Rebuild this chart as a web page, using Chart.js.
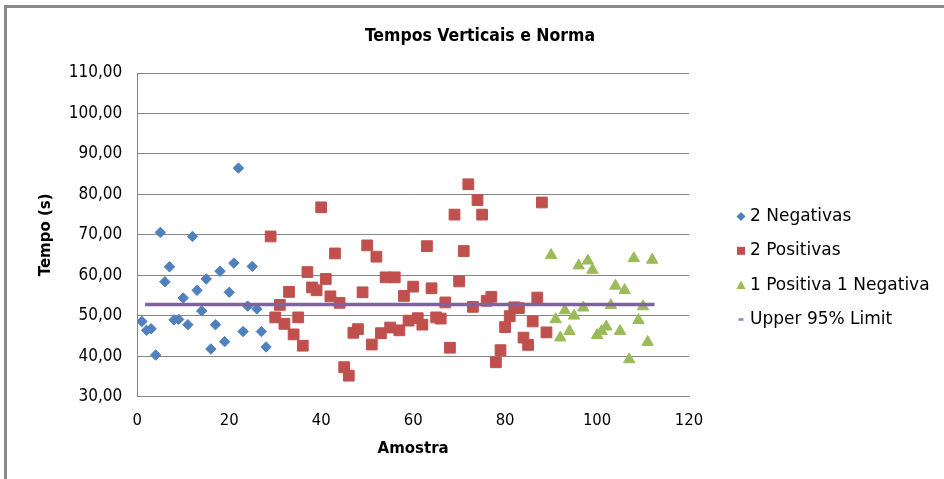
<!DOCTYPE html>
<html>
<head>
<meta charset="utf-8">
<script src="https://cdn.jsdelivr.net/npm/chart.js@4.4.1/dist/chart.umd.min.js"></script>
<style>
  html, body { margin: 0; padding: 0; background: #fff; overflow: hidden; width: 944px; height: 479px; }
  #frame { position: absolute; left: 4px; top: 5px; width: 1200px; height: 800px; border: 3px solid #8a8a8a; box-sizing: border-box; }
  #wrap { position: absolute; left: 0; top: 0; width: 944px; height: 479px; }
</style>
</head>
<body>
<div id="frame"></div>
<div id="wrap"><canvas id="c" width="944" height="479"></canvas></div>
<script>
// Sample numbers (Amostra) and vertical times (s) per group
const amostraNeg = [1,2,3,4,5,6,7,8,9,10,11,12,13,14,15,16,17,18,19,20,21,22,23,24,25,26,27,28];
const tempoNeg   = [48.6,46.4,46.8,40.3,70.6,58.4,62.1,49.0,49.1,54.4,47.8,69.6,56.3,51.2,59.1,41.8,47.8,61.0,43.6,55.8,63.0,86.5,46.1,52.4,62.2,51.7,46.1,42.3];

const amostraPos = [29,30,31,32,33,34,35,36,37,38,39,40,41,42,43,44,45,46,47,48,49,50,51,52,53,54,55,56,57,58,59,
                    60,61,62,63,64,65,66,67,68,69,70,71,72,73,74,75,76,77,78,79,80,81,82,83,84,85,86,87,88,89];
const tempoPos   = [69.6,49.6,52.7,48.0,55.9,45.4,49.6,42.6,60.8,57.0,56.3,76.8,59.1,54.8,65.4,53.2,37.3,35.2,45.8,46.7,55.8,
                    67.4,42.9,64.6,45.7,59.5,47.1,59.5,46.4,54.9,48.8,57.2,49.4,47.8,67.2,56.8,49.6,49.3,53.3,42.1,75.0,
                    58.5,66.0,82.5,52.2,78.6,75.0,53.7,54.7,38.5,41.5,47.2,49.9,52.1,51.9,44.6,42.8,48.6,54.5,78.0,45.9];

const amostraMix = [90,91,92,93,94,95,96,97,98,99,100,101,102,103,104,105,106,107,108,109,110,111,112];
const tempoMix   = [65.0,49.1,44.6,51.3,46.2,50.0,62.4,52.0,63.6,61.3,45.2,46.2,47.3,52.6,57.4,46.2,56.3,39.2,64.2,48.9,52.3,43.5,63.8];

// Upper 95% limit, drawn as a horizontal segment
const limiteX = [1.7, 112.5];
const limiteY = [52.8, 52.8];

const seriesNames = ['2 Negativas', '2 Positivas', '1 Positiva 1 Negativa', 'Upper 95% Limit'];
const chartTitle = 'Tempos Verticais e Norma';
const xTitle = 'Amostra';
const yTitle = 'Tempo (s)';

const pts = (xs, ys) => xs.map((x, i) => ({ x: x, y: ys[i] }));

const BLUE = '#4F81BD', RED = '#C0504D', GREEN = '#9BBB59', PURPLE = '#7F63A1';

// Title and legend painted beside the plot area
const sidePlugin = {
  id: 'sideLegend',
  afterDraw(chart) {
    const ctx = chart.ctx;
    ctx.save();
    ctx.fillStyle = '#000';
    ctx.textAlign = 'center';
    ctx.textBaseline = 'middle';
    ctx.font = 'bold 17.5px "DejaVu Sans Condensed", "DejaVu Sans"';
    ctx.fillText(chartTitle, 480, 36);

    ctx.font = '17px "DejaVu Sans"';
    ctx.textAlign = 'left';
    const styles = ['diamond', 'square', 'triangle', 'line'];
    chart.data.datasets.forEach((ds, i) => {
      const cy = 216.5 + 34.3 * i;
      const cx = 741;
      ctx.fillStyle = ds.legendColor;
      ctx.strokeStyle = ds.legendColor;
      ctx.beginPath();
      if (styles[i] === 'diamond') {
        ctx.moveTo(cx, cy - 4.5); ctx.lineTo(cx + 4.5, cy); ctx.lineTo(cx, cy + 4.5); ctx.lineTo(cx - 4.5, cy);
        ctx.closePath(); ctx.fill();
      } else if (styles[i] === 'square') {
        ctx.rect(cx - 4, cy - 4, 8, 8); ctx.fill();
      } else if (styles[i] === 'triangle') {
        ctx.moveTo(cx, cy - 4.5); ctx.lineTo(cx + 4.5, cy + 4); ctx.lineTo(cx - 4.5, cy + 4);
        ctx.closePath(); ctx.fill();
      } else {
        ctx.fillRect(cx - 2.5, cy - 1.2, 5, 2.6);
      }
      ctx.fillStyle = '#000';
      ctx.fillText(ds.label, 750, cy);
    });
    ctx.restore();
  }
};

new Chart(document.getElementById('c'), {
  type: 'scatter',
  data: {
    datasets: [
      { label: seriesNames[0], data: pts(amostraNeg, tempoNeg), pointStyle: 'rectRot', pointRadius: 5.2,
        backgroundColor: BLUE, borderColor: BLUE, borderWidth: 1, legendColor: BLUE, order: 4 },
      { label: seriesNames[1], data: pts(amostraPos, tempoPos), pointStyle: 'rect', pointRadius: 7.6,
        backgroundColor: RED, borderColor: RED, borderWidth: 1, legendColor: RED, order: 3 },
      { label: seriesNames[2], data: pts(amostraMix, tempoMix), pointStyle: 'triangle', pointRadius: 6.6,
        backgroundColor: GREEN, borderColor: GREEN, borderWidth: 1, legendColor: GREEN, order: 2 },
      { label: seriesNames[3], type: 'line', data: pts(limiteX, limiteY), showLine: true, pointRadius: 0,
        borderColor: PURPLE, backgroundColor: PURPLE, borderWidth: 3.5, legendColor: '#9A86BA', order: 1 }
    ]
  },
  options: {
    responsive: false,
    animation: false,
    devicePixelRatio: 1,
    layout: { padding: { top: 73, right: 255, bottom: 0, left: 0 } },
    plugins: { legend: { display: false }, title: { display: false }, tooltip: { enabled: false } },
    scales: {
      x: {
        type: 'linear', min: 0, max: 120,
        ticks: { stepSize: 20, maxRotation: 0, color: '#000', padding: 14,
                 font: { family: '"DejaVu Sans Condensed", "DejaVu Sans"', size: 16.5 } },
        grid: { display: false, drawTicks: false },
        border: { display: true, color: '#868686', width: 1 },
        title: { display: true, text: xTitle, color: '#000', padding: { top: 0, bottom: 21 },
                 font: { family: '"DejaVu Sans"', size: 15, weight: 'bold' } },
        afterFit(scale) { scale.height = 82.3; }
      },
      y: {
        min: 30, max: 110,
        ticks: { stepSize: 10, color: '#000', padding: 15,
                 font: { family: '"DejaVu Sans Condensed", "DejaVu Sans"', size: 17 },
                 callback: (v) => v.toFixed(2).replace('.', ',') },
        grid: { color: '#868686', lineWidth: 1, drawTicks: false },
        border: { display: true, color: '#868686', width: 1 },
        title: { display: true, text: yTitle, color: '#000', padding: { top: 37, bottom: 0 },
                 font: { family: '"DejaVu Sans"', size: 15, weight: 'bold' } },
        afterFit(scale) { scale.width = 137.3; }
      }
    }
  },
  plugins: [sidePlugin]
});
</script>
</body>
</html>
